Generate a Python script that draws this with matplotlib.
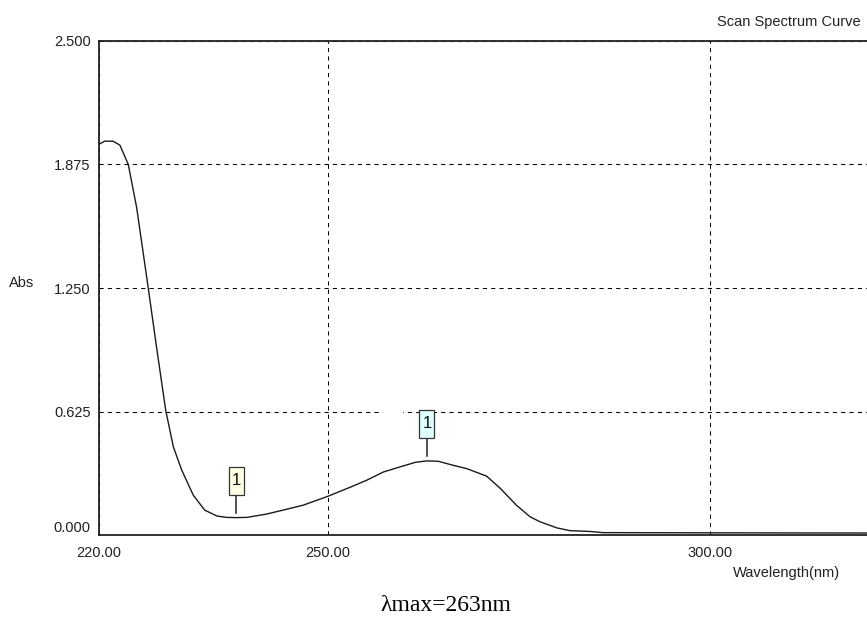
import matplotlib
matplotlib.use("Agg")
import matplotlib.pyplot as plt
from matplotlib.patches import Rectangle
from matplotlib.lines import Line2D
from matplotlib.transforms import ScaledTranslation

plt.rcParams['font.family'] = ['Liberation Sans', 'DejaVu Sans']

# scan data: wavelength (nm) and absorbance
wavelength = [220.0, 220.8, 221.9, 222.8, 223.9, 225.0, 226.5, 227.6, 228.8,
              229.8, 230.9, 232.4, 233.9, 235.5, 236.8, 238.0, 239.4, 242.0,
              244.6, 246.8, 250.1, 252.9, 255.1, 257.3, 259.5, 261.5, 263.0,
              264.5, 266.4, 268.2, 270.8, 272.6, 274.7, 276.5, 277.8, 280.0,
              281.7, 284.3, 286.0, 300.0, 320.6]
absorbance = [1.976, 1.993, 1.993, 1.973, 1.875, 1.656, 1.253, 0.950, 0.631,
              0.446, 0.328, 0.202, 0.126, 0.096, 0.089, 0.088, 0.089, 0.106,
              0.130, 0.151, 0.197, 0.241, 0.277, 0.319, 0.345, 0.368, 0.375,
              0.373, 0.353, 0.336, 0.298, 0.236, 0.151, 0.092, 0.067, 0.036,
              0.022, 0.018, 0.012, 0.011, 0.010]

# peak / valley markers: (wavelength, box colour)
peaks = [(238.0, '#ffffe6'), (263.0, '#e0ffff')]

x_ticks = [220, 250, 300]
x_labels = ['220.00', '250.00', '300.00']
y_ticks = [0.0, 0.625, 1.25, 1.875, 2.5]
y_labels = ['0.000', '0.625', '1.250', '1.875', '2.500']

fig = plt.figure(figsize=(8.67, 6.18), dpi=100)
ax = fig.add_axes([98.5 / 867, 83 / 618, 768.5 / 867, 494 / 618])

ax.set_xlim(220, 320.6)
ax.set_ylim(0, 2.5)
ax.set_xticks(x_ticks)
ax.set_xticklabels(x_labels)
ax.set_yticks(y_ticks)
ax.set_yticklabels(y_labels)
ax.tick_params(length=0, labelsize=10.5, labelcolor='#222222')
ax.tick_params(axis='x', pad=8)
ax.tick_params(axis='y', pad=5.5)

# bottom label sits a little above the axis line
for lab in ax.get_yticklabels():
    if lab.get_text() == '0.000':
        lab.set_transform(lab.get_transform() + ScaledTranslation(0, 0.09, fig.dpi_scale_trans))

for side in ['left', 'top', 'bottom']:
    ax.spines[side].set_linewidth(1.3)
    ax.spines[side].set_color('#222222')
ax.spines['right'].set_visible(False)

ax.grid(True, color='black', linewidth=0.75, linestyle=(0, (4, 4)))

# small blank gap in the 0.625 grid line
ax.add_patch(Rectangle((257.3, 0.61), 2.6, 0.03, facecolor='white',
                       edgecolor='none', zorder=1.8))

ax.plot(wavelength, absorbance, color='#1a1a1a', linewidth=1.0, zorder=2)

# marker: stick + numbered box, sized in inches above the curve point
for wl, col in peaks:
    a = absorbance[wavelength.index(wl)]
    tr = fig.dpi_scale_trans + ScaledTranslation(wl, a, ax.transData)
    ax.add_line(Line2D([0, 0], [0.05, 0.23], transform=tr, color='#222222',
                       linewidth=1.1, zorder=3))
    ax.add_patch(Rectangle((-0.075, 0.23), 0.15, 0.28, transform=tr,
                           facecolor=col, edgecolor='#333333', linewidth=0.9,
                           zorder=3))
    ax.text(0, 0.37, '1', transform=tr, ha='center', va='center',
            fontsize=12, color='#111111', zorder=4)

fig.text(861 / 867, 1 - 22 / 618, 'Scan Spectrum Curve', ha='right', va='center',
         fontsize=10.5, color='#222222')
fig.text(22 / 867, 1 - 283 / 618, 'Abs', ha='center', va='center',
         fontsize=10.5, color='#222222')
fig.text(733 / 867, 1 - 573 / 618, 'Wavelength(nm)', ha='left', va='center',
         fontsize=10.5, color='#222222')
fig.text(446 / 867, 7 / 618, 'λmax=263nm', ha='center', va='baseline',
         fontsize=17, family=['Liberation Serif', 'DejaVu Serif'], color='black')

fig.savefig('out.png', dpi=100)
